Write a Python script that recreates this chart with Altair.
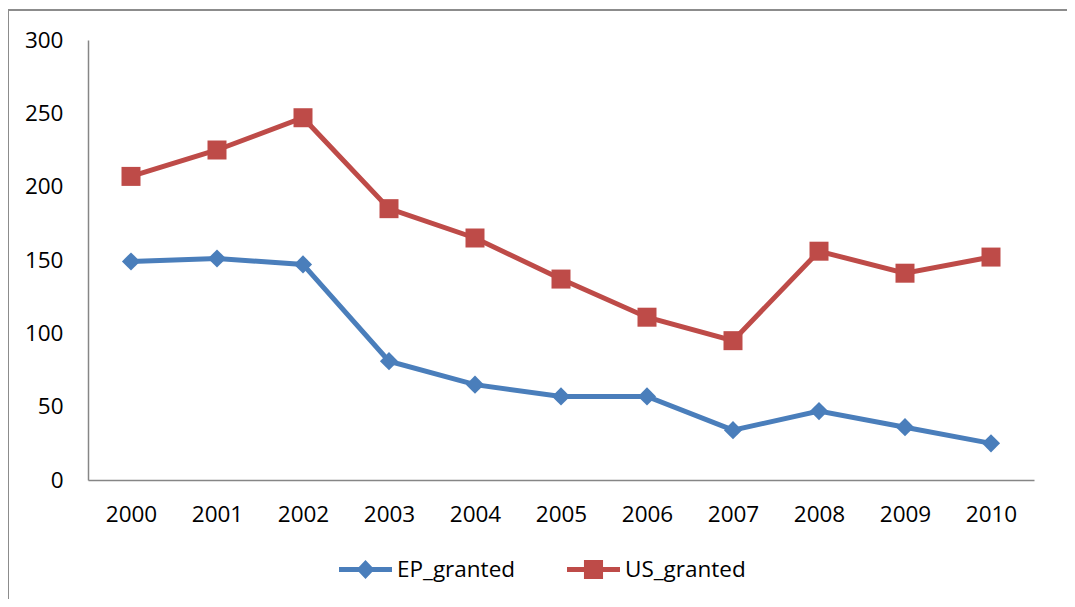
import altair as alt
import pandas as pd

years = ["2000", "2001", "2002", "2003", "2004", "2005", "2006", "2007", "2008", "2009", "2010"]
ep_granted = [149, 151, 147, 81, 65, 57, 57, 34, 47, 36, 25]
us_granted = [207, 225, 247, 185, 165, 137, 111, 95, 156, 141, 152]
series_names = ["EP_granted", "US_granted"]
series_colors = ["#4A7EBB", "#BE4B48"]
y_ticks = [0, 50, 100, 150, 200, 250, 300]

rows = []
for name, vals in zip(series_names, [ep_granted, us_granted]):
    for yr, v in zip(years, vals):
        rows.append({"year": yr, "value": v, "series": name})
df = pd.DataFrame(rows)

FONT = "Open Sans"
W, H = 946, 440

color_scale = alt.Scale(domain=series_names, range=series_colors)
x_enc = alt.X("year:O", sort=years,
              scale=alt.Scale(type="point", padding=0.5),
              axis=alt.Axis(title=None, labelAngle=0, ticks=False, domainColor="#868686",
                            domainWidth=1.5, labelPadding=34, labelBaseline="middle",
                            labelFontSize=22.5, labelColor="#000000", labelFont=FONT, grid=False))
y_enc = alt.Y("value:Q", scale=alt.Scale(domain=[0, 300], nice=False),
              axis=alt.Axis(title=None, values=y_ticks, ticks=False, domainColor="#868686",
                            domainWidth=1.5, labelPadding=25, labelFontSize=22.5,
                            labelColor="#000000", labelFont=FONT, grid=False))

base = alt.Chart(df)

lines = base.mark_line(strokeWidth=5).encode(
    x=x_enc, y=y_enc,
    color=alt.Color("series:N", scale=color_scale, legend=None),
    detail="series:N",
)

points = base.mark_point(filled=True, opacity=1, strokeWidth=0).encode(
    x=x_enc, y=y_enc,
    color=alt.Color("series:N", scale=color_scale, legend=None),
    shape=alt.Shape("series:N", scale=alt.Scale(domain=series_names, range=["diamond", "square"]), legend=None),
    size=alt.Size("series:N", scale=alt.Scale(domain=series_names, range=[330, 361]), legend=None),
)

ep_sym = "M-1,-0.094L1,-0.094L1,0.094L-1,0.094Z M0,-0.36L0.34,0L0,0.36L-0.34,0Z"
us_sym = "M-1,-0.094L1,-0.094L1,0.094L-1,0.094Z M-0.36,-0.36L0.36,-0.36L0.36,0.36L-0.36,0.36Z"

legend_opts = dict(title=None, orient="none", direction="horizontal",
                   legendX=251, legendY=503, symbolSize=2809,
                   symbolStrokeWidth=0, labelFont=FONT, labelFontSize=22.5,
                   labelColor="#000000", labelOffset=5, columnPadding=51,
                   symbolOpacity=1)

legend_layer = base.mark_point(filled=True, opacity=1, strokeWidth=0).encode(
    x=x_enc, y=y_enc,
    color=alt.Color("series:N", scale=color_scale, legend=alt.Legend(**legend_opts)),
    shape=alt.Shape("series:N", scale=alt.Scale(domain=series_names, range=[ep_sym, us_sym]),
                    legend=alt.Legend(**legend_opts)),
).transform_filter("false")

border_src = alt.Data(values=[{"k": 0}])
border_left = alt.Chart(border_src).mark_rule(color="#8c8c8c", strokeWidth=2).encode(
    x=alt.value(-80), y=alt.value(-30), y2=alt.value(H + 130))
border_top = alt.Chart(border_src).mark_rule(color="#8c8c8c", strokeWidth=2).encode(
    x=alt.value(-80), x2=alt.value(W + 40), y=alt.value(-30))

chart = alt.layer(lines, points, legend_layer, border_left, border_top).resolve_scale(
    shape="independent", color="independent"
).properties(
    width=W, height=H,
    autosize=alt.AutoSizeParams(type="none"),
    padding={"left": 80, "top": 32, "right": 33, "bottom": 119},
    background="#ffffff",
).configure_view(strokeOpacity=0)

chart.save("out.html", embed_options={"renderer": "svg", "actions": False})
